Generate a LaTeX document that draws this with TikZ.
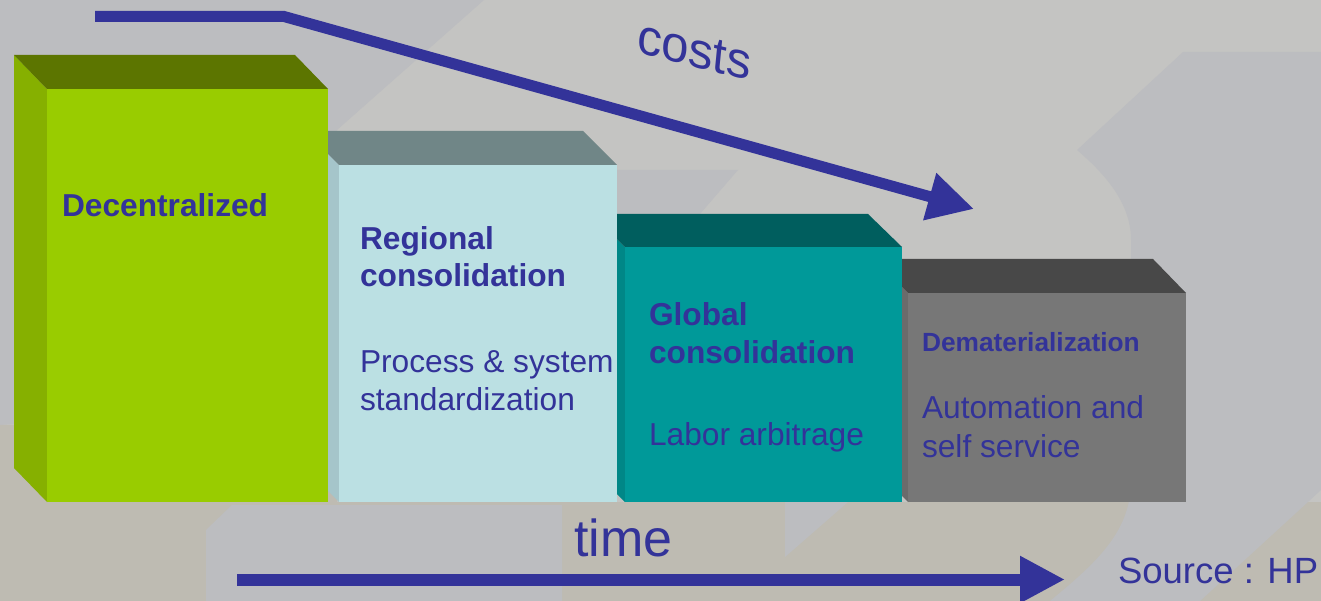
\documentclass[tikz,border=0pt]{standalone}
\usepackage{fontspec}
\setmainfont{Liberation Sans}
\usetikzlibrary{arrows.meta}
\definecolor{ink}{HTML}{333399}
\definecolor{bgmid}{HTML}{C4C4C2}
\definecolor{bgblue}{HTML}{BCBDC0}
\definecolor{bgbeige}{HTML}{BEBBB2}
\definecolor{gFront}{HTML}{99CC00}
\definecolor{gTop}{HTML}{5C7500}
\definecolor{gSide}{HTML}{86B000}
\definecolor{bFront}{HTML}{BBE0E3}
\definecolor{bTop}{HTML}{708687}
\definecolor{bSide}{HTML}{A5C5CA}
\definecolor{tFront}{HTML}{009999}
\definecolor{tTop}{HTML}{005E5E}
\definecolor{tSide}{HTML}{008787}
\definecolor{kFront}{HTML}{777777}
\definecolor{kTop}{HTML}{484848}
\definecolor{kSide}{HTML}{6B6B6B}
\begin{document}
\begin{tikzpicture}[x=1pt,y=-1pt,
  txt/.style={anchor=base west, inner sep=0pt, outer sep=0pt, text=ink},
  bigb/.style={txt, font=\fontsize{31.7}{38}\selectfont\bfseries},
  smallb/.style={txt, font=\fontsize{26.3}{32}\selectfont\bfseries},
  reg/.style={txt, font=\fontsize{31.7}{38}\selectfont},
  arrowline/.style={draw=ink, line join=miter}]
\useasboundingbox (0,0) rectangle (1321,601);
% background watermark
\fill[bgmid] (0,0) rectangle (1321,601);
\fill[bgblue] (0,0) -- (484,0) -- (337,130) -- (337,400) -- (0,425) -- cycle;
\fill[bgbeige] (0,425) -- (337,420) -- (337,601) -- (0,601) -- cycle;
\fill[bgbeige] (0,502) rectangle (1321,601);
\fill[bgblue] (206,530) -- (232,505) -- (562,505) -- (562,601) -- (206,601) -- cycle;
\fill[bgblue] (785,502) -- (848,502) -- (785,557) -- cycle;
\fill[bgblue] (600,170) -- (738,170) -- (700,214) -- (600,214) -- cycle;
\fill[bgblue] (1183,52) -- (1321,52) -- (1321,490) -- (1200,601) -- (1050,601)
  .. controls (1100,560) and (1131,530) .. (1131,480) -- (1131,240)
  .. controls (1131,200) and (1100,170) .. (1077,150) -- cycle;
% box 4 (grey)
\fill[kSide] (875,259) -- (908,293) -- (908,502) -- (875,468) -- cycle;
\fill[kTop] (875,259) -- (1153,259) -- (1186,293) -- (908,293) -- cycle;
\fill[kFront] (908,293) rectangle (1186,502);
% box 3 (teal)
\fill[tSide] (591,214) -- (625,247) -- (625,502) -- (591,469) -- cycle;
\fill[tTop] (591,214) -- (868,214) -- (902,247) -- (625,247) -- cycle;
\fill[tFront] (625,247) rectangle (902,502);
% box 2 (light blue)
\fill[bSide] (305,131) -- (339,165) -- (339,502) -- (305,468) -- cycle;
\fill[bTop] (305,131) -- (583,131) -- (617,165) -- (339,165) -- cycle;
\fill[bFront] (339,165) rectangle (617,502);
% box 1 (green)
\fill[gSide] (14,55) -- (47,89) -- (47,502) -- (14,468) -- cycle;
\fill[gTop] (14,55) -- (295,55) -- (328,89) -- (47,89) -- cycle;
\fill[gFront] (47,89) rectangle (328,502);
% texts
\node[bigb] (dec) at (62,217) {Decentralized};
\node[bigb] (reg1) at (360,250) {Regional};
\node[bigb] (reg2) at (360,287) {consolidation};
\node[reg] (reg3) at (360,372) {Process \& system};
\node[reg] (reg4) at (360,410) {standardization};
\node[bigb] (glo1) at (649,325) {Global};
\node[bigb] (glo2) at (649,363) {consolidation};
\node[reg] (glo3) at (649,445) {Labor arbitrage};
\node[smallb] (dem1) at (922,351) {Dematerialization};
\node[reg] (dem2) at (922,418) {Automation and};
\node[reg] (dem3) at (922,457) {self service};
\node[txt, font=\fontsize{52}{60}\selectfont] (time) at (574,556) {time};
\node[txt, font=\fontsize{36.5}{42}\selectfont] (src) at (1118,583) {Source : HP};
\node[txt, font=\fontsize{50}{58}\selectfont, rotate=-13.5, xslant=-0.14] (costs) at (636,53) {costs};
% arrows
\coordinate (c0) at (95,16.5);
\coordinate (c1) at (284,16.5);
\coordinate (c2) at (974,209);
\draw[arrowline, line width=11pt, -{Triangle[length=46pt,width=46pt]}] (c0) -- (c1) -- (c2);
\coordinate (t0) at (237,579.5);
\coordinate (t1) at (1065,579.5);
\draw[arrowline, line width=12pt, -{Triangle[length=45pt,width=44pt]}] (t0) -- (t1);
\end{tikzpicture}
\end{document}
